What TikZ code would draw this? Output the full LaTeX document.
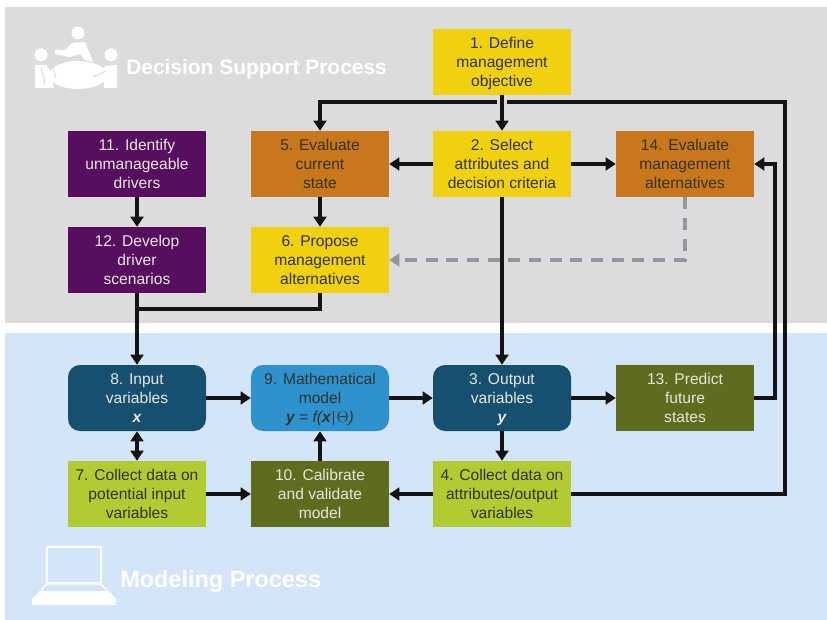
\documentclass[tikz,border=0pt]{standalone}
\usepackage{fontspec}
\setmainfont{Liberation Sans}
\usetikzlibrary{arrows.meta}
\definecolor{bggray}{HTML}{DCDCDE}
\definecolor{bgblue}{HTML}{D4E5FA}
\definecolor{cyel}{HTML}{EFD110}
\definecolor{cora}{HTML}{C8771A}
\definecolor{cpur}{HTML}{560F5E}
\definecolor{cnavy}{HTML}{17506F}
\definecolor{csky}{HTML}{2E92CE}
\definecolor{cdgreen}{HTML}{5F6C1E}
\definecolor{clime}{HTML}{B2CB33}
\definecolor{cink}{HTML}{33332A}
\definecolor{clight}{HTML}{E6E6DE}
\definecolor{cdash}{HTML}{96969A}
\newcommand{\bvar}[1]{{\bfseries\itshape #1}}
\tikzset{
  x=0.75pt,y=-0.75pt,
  boxbase/.style={minimum width=103.5pt,minimum height=49.5pt,inner sep=0pt,align=center,font=\fontsize{11.7}{14.2}\selectfont,text height=38.8pt,text depth=2.6pt},
  yel/.style={boxbase,fill=cyel,text=cink},
  ora/.style={boxbase,fill=cora,text=cink},
  pur/.style={boxbase,fill=cpur,text=clight},
  navy/.style={boxbase,fill=cnavy,text=clight,rounded corners=9pt},
  sky/.style={boxbase,fill=csky,text=cink,rounded corners=9pt},
  dgreen/.style={boxbase,fill=cdgreen,text=clight},
  lime/.style={boxbase,fill=clime,text=cink},
  conn/.style={draw=black!92,line width=2.6pt,-{Triangle[length=7.5pt,width=9.5pt]}},
  connb/.style={draw=black!92,line width=2.6pt,{Triangle[length=7.5pt,width=9.5pt]}-{Triangle[length=7.5pt,width=9.5pt]}},
  plain/.style={draw=black!92,line width=2.6pt},
  dashconn/.style={draw=cdash,line width=2.6pt,dash pattern=on 9pt off 6.5pt,-{Triangle[length=7.5pt,width=9.5pt]}},
  head/.style={text=white,font=\bfseries\fontsize{15.7}{18}\selectfont,anchor=west,inner sep=0pt},
  headb/.style={text=white,font=\bfseries\fontsize{17.6}{18}\selectfont,anchor=west,inner sep=0pt},
  icon/.style={fill=white,draw=none},
}
\begin{document}
\begin{tikzpicture}
\useasboundingbox (0,0) rectangle (827,620);
\fill[white] (0,0) rectangle (827,620);
\fill[bggray] (5,7) rectangle (827,323);
\fill[bgblue] (5,333) rectangle (827,620);
% people icon
\fill[icon] (78,33) circle (6.5);
\fill[icon] (41,55) circle (6.5);
\fill[icon] (111,55) circle (6.5);
\fill[icon] (78,75) ellipse (29 and 14);
\fill[icon] (55,50) -- (65,50) -- (72,43) -- (85,42) -- (93,62) -- (85,60) -- (80,54) -- (70,57) -- (55,54) -- cycle;
\fill[icon] (35,65) -- (46,65) -- (50,70) -- (54,88) -- (35,88) -- cycle;
\fill[icon] (117,65) -- (106,66) -- (93,76) -- (104,78) -- (104,88) -- (117,88) -- cycle;
\draw[bggray,line width=0.8pt] (41,68) -- (45,84);
\draw[bggray,line width=0.8pt] (93,77) -- (106,71);
\draw[bggray,line width=0.8pt] (52,62) -- (56,78);
\node[head] (hd) at (126,69) {Decision Support Process};
% laptop icon
\draw[white,line width=1.2pt] (47,583) -- (47,547) -- (101,547) -- (101,583) -- cycle;
\fill[icon] (32,605) -- (32,599) -- (47,583) -- (101,583) -- (116,599) -- (116,605) -- cycle;
\fill[bgblue] (48,584.5) -- (100,584.5) -- (107,591) -- (41,591) -- cycle;
\node[headb] (hm) at (120,581) {Modeling Process};
% boxes
\node[yel] (n1) at (502,62) {1. Define\\management\\objective};
\node[yel] (n2) at (502,164) {2. Select\\attributes and\\decision criteria};
\node[ora] (n5) at (320,164) {5. Evaluate\\current\\state};
\node[ora] (n14) at (685,164) {14. Evaluate\\management\\alternatives};
\node[pur] (n11) at (137,164) {11. Identify\\unmanageable\\drivers};
\node[pur] (n12) at (137,260) {12. Develop\\driver\\scenarios};
\node[yel] (n6) at (320,260) {6. Propose\\management\\alternatives};
\node[navy] (n8) at (137,398) {8. Input\\variables\\\bvar{x}};
\node[sky] (n9) at (320,398) {9. Mathematical\\model\\\bvar{y} = {\itshape f(}\bvar{x}\,\rule[-2.5pt]{0.4pt}{11pt}\,$\Theta${\itshape )}};
\node[navy] (n3) at (502,398) {3. Output\\variables\\\bvar{y}};
\node[dgreen] (n13) at (685,398) {13. Predict\\future\\states};
\node[lime] (n7) at (137,494) {7. Collect data on\\potential input\\variables};
\node[dgreen] (n10) at (320,494) {10. Calibrate\\and validate\\model};
\node[lime] (n4) at (502,494) {4. Collect data on\\attributes/output\\variables};
% helper coordinates
\coordinate (gapl) at (497,102);
\coordinate (gapr) at (507,102);
\coordinate (c1r) at (785,102);
\coordinate (c4r) at (785,494);
\coordinate (c613) at (137,309);
\coordinate (c6b) at (320,309);
\coordinate (c13r) at (775,398);
\coordinate (c14r) at (775,164);
\coordinate (cd1) at (685,260);
% connectors
\draw[conn] (n1.south) -- (n2.north);
\draw[conn] (gapl) -| (n5.north);
\draw[plain] (gapr) -- (c1r) -- (c4r) -- (n4.east);
\draw[conn] (n2.west) -- (n5.east);
\draw[conn] (n2.east) -- (n14.west);
\draw[conn] (n2.south) -- (n3.north);
\draw[conn] (n5.south) -- (n6.north);
\draw[conn] (n11.south) -- (n12.north);
\draw[conn] (n12.south) -- (n8.north);
\draw[plain] (n6.south) -- (c6b) -- (c613);
\draw[conn] (n8.east) -- (n9.west);
\draw[conn] (n9.east) -- (n3.west);
\draw[conn] (n3.east) -- (n13.west);
\draw[conn] (n3.south) -- (n4.north);
\draw[conn] (n4.west) -- (n10.east);
\draw[conn] (n10.north) -- (n9.south);
\draw[conn] (n7.east) -- (n10.west);
\draw[connb] (n8.south) -- (n7.north);
\draw[conn] (n13.east) -- (c13r) -- (c14r) -- (n14.east);
\draw[dashconn] (n14.south) -- (cd1) -- (n6.east);
\end{tikzpicture}
\end{document}
